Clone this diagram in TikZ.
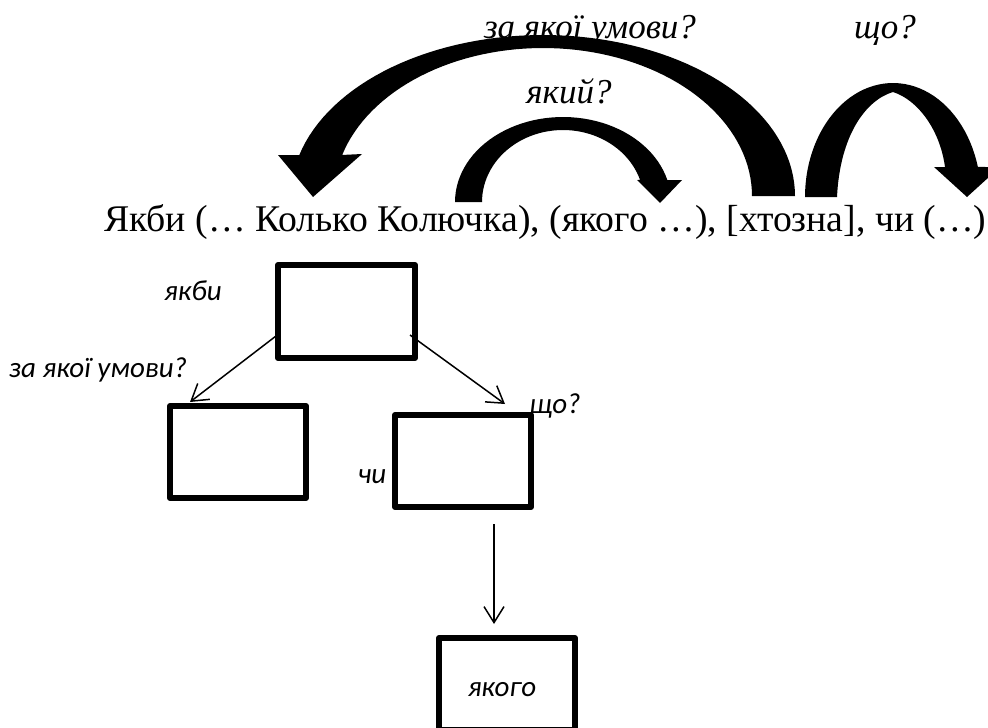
\documentclass[tikz,border=0pt]{standalone}
\usepackage{fontspec}
\setmainfont{Liberation Serif}
\newfontfamily\calfont{Carlito}[ItalicFont={Carlito Italic}]
\usetikzlibrary{arrows.meta,calc}
\begin{document}
\begin{tikzpicture}[x=1pt,y=-1pt,
  blk/.style={draw=black,line width=6pt,line join=round,inner sep=0pt,outer sep=0pt},
  thinarrow/.style={line width=1.5pt,-{Straight Barb[length=16pt,width=20pt,line width=1.5pt]}},
  serlbl/.style={font=\fontsize{35}{42}\selectfont\itshape,inner sep=0pt,anchor=base},
  sanslbl/.style={font=\calfont\itshape\fontsize{29}{35}\selectfont,inner sep=0pt,anchor=base},
  band/.style={fill=black,draw=none}]
\useasboundingbox (0,0) rectangle (988,728);
\clip (0,0) rectangle (988,728);
% labels of the big arrows (drawn first, arrows overlap them)
\node[serlbl] (q1) at (590,38) {за якої умови?};
\node[serlbl] (q2) at (569,103) {який?};
\node[serlbl] (q3) at (885,38) {що?};
% sentence
\node[font=\fontsize{37.7}{45}\selectfont,anchor=base west,inner sep=0pt] (sent) at (104,231)
  {Якби (… Колько Колючка), (якого …), [хтозна], чи (…)};
% big curved arrow A
\path[band] (795,196) -- plot[domain=0:165.25,samples=70] ({543+252*cos(\x)},{196-161*sin(\x)})
  -- (278,155) -- (313,197) -- (362,154)
  -- plot[domain=163.9:0,samples=70] ({543+209*cos(\x)},{196-148*sin(\x)}) -- cycle;
% curved arrow B
\path[band] (455,202) -- plot[domain=180:15,samples=50] ({563+108*cos(\x)},{202-85*sin(\x)})
  -- (682,180) -- (660,203) -- (637,180)
  -- plot[domain=17.8:180,samples=50] ({563+81*cos(\x)},{202-72*sin(\x)}) -- cycle;
% curved arrow C
\path[band] (805,197) -- plot[domain=180:15.26,samples=50] ({893+88*cos(\x)},{197-114*sin(\x)})
  -- (1000,167) -- (967,197) -- (934,167) -- (945,167)
  .. controls (940,130) and (918,100) .. (893,92)
  .. controls (866,100) and (840,135) .. (837,197) -- cycle;
% boxes
\node[blk,minimum width=137pt,minimum height=93pt] (b1) at (346.5,311.5) {};
\node[blk,minimum width=136pt,minimum height=92pt] (b2) at (238,452) {};
\node[blk,minimum width=136pt,minimum height=92pt] (b3) at (463,461) {};
\node[blk,minimum width=136pt,minimum height=92pt] (b4) at (507,684) {};
% box labels
\node[sanslbl] (l1) at (193,300) {якби};
\node[sanslbl] (l2) at (98,377) {за якої умови?};
\node[sanslbl] (l3) at (555,413) {що?};
\node[sanslbl] (l4) at (372,483) {чи};
\node[sanslbl] (l5) at (502,696) {якого};
% connectors
\draw[thinarrow] ($(b1.south west)+(-2,-22)$) -- ($(b2.north west)+(20,-4)$);
\draw[thinarrow] ($(b1.south east)+(-5,-23)$) -- ($(b3.north east)+(-26,-11)$);
\draw[thinarrow] ($(b3.south)+(31,17)$) -- ($(b4.north)+(-13,-14)$);
\end{tikzpicture}
\end{document}
